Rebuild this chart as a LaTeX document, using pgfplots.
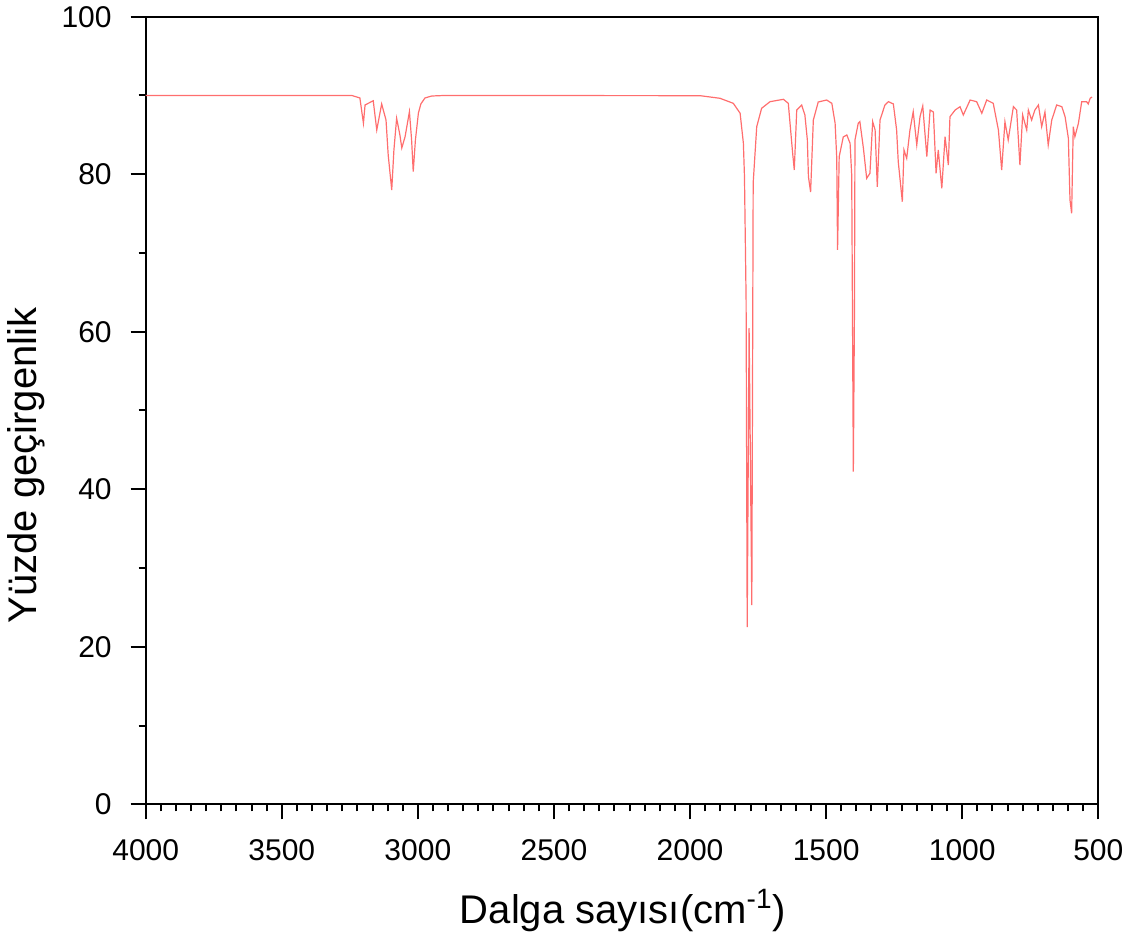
\documentclass[border=0pt]{standalone}
\usepackage{pgfplots}
\pgfplotsset{compat=1.18}
\usepackage{fontspec}
\setmainfont{Liberation Sans}
\definecolor{linered}{RGB}{255,110,110}
\pgfplotstableread{
x y
4000 90.0
3300 90.0
3243 90.0
3213 89.68
3200 86.47
3194 88.79
3164 89.33
3151 85.61
3133 88.92
3117 86.88
3109 82.44
3096 78.0
3088 83.07
3078 87.10
3066 84.98
3059 83.33
3047 84.76
3031 87.94
3023 84.35
3017 80.32
3009 84.35
2998 87.77
2989 88.92
2974 89.68
2949 89.93
2900 90.0
1963 89.97
1890 89.64
1841 89.0
1816 87.74
1804 83.93
1800 79.68
1794 64.0
1790 22.51
1783 60.47
1773 25.3
1768 78.9
1755 86.03
1737 88.37
1706 89.21
1657 89.51
1639 89.0
1623 82.66
1617 80.54
1608 88.15
1590 88.79
1578 87.52
1569 84.35
1565 79.68
1557 77.74
1547 86.88
1529 89.17
1498 89.42
1479 89.0
1467 86.47
1461 82.06
1458 70.38
1452 82.23
1437 84.73
1424 84.98
1412 83.93
1406 79.9
1400 42.23
1396 62.13
1394 84.35
1382 86.47
1376 86.67
1363 83.29
1351 79.48
1339 80.12
1329 86.67
1320 85.61
1312 78.41
1302 86.88
1284 88.79
1271 89.21
1253 88.92
1241 85.61
1235 81.59
1220 76.51
1214 83.07
1204 82.02
1192 85.61
1180 87.94
1167 83.71
1155 87.3
1145 88.66
1130 82.23
1118 88.15
1106 87.9
1096 80.12
1088 83.07
1075 78.21
1063 84.76
1051 81.17
1045 87.3
1026 88.15
1008 88.57
996 87.52
971 89.42
947 89.21
928 87.74
910 89.42
886 89.0
867 85.61
855 80.54
843 86.67
831 84.35
812 88.57
800 88.15
788 81.17
778 87.52
763 85.61
757 88.15
745 86.88
733 88.15
720 88.79
708 86.03
696 87.9
684 83.71
671 86.88
653 88.79
634 88.57
622 87.3
610 84.56
604 76.73
598 75.04
592 86.03
586 84.76
573 86.47
561 89.21
543 89.21
537 88.92
530 89.64
523 89.8
}\spectrum
\begin{document}
\begin{tikzpicture}
\useasboundingbox (0,0) rectangle (572pt,471pt);
\begin{axis}[
  at={(72.85pt,68.85pt)}, anchor=south west,
  scale only axis, width=476.3pt, height=393.8pt,
  x dir=reverse,
  xmin=500, xmax=4000, ymin=0, ymax=100,
  xtick={500,1000,...,4000}, ytick={0,20,...,100},
  minor x tick num=8, minor y tick num=1,
  tick align=outside, tick pos=left,
  major tick length=7.5pt, minor tick length=3.5pt,
  axis line style={line width=1pt},
  tick style={line width=1pt, black},
  tick label style={font=\fontsize{15}{18}\selectfont},
  xticklabel style={yshift=-6.5pt},
  yticklabel style={xshift=-6pt},
  /pgf/number format/assume math mode=true,
  /pgf/number format/1000 sep={},
  label style={font=\fontsize{20}{24}\selectfont},
  xlabel={Dalga sayısı(cm\textsuperscript{-1})},
  ylabel={Yüzde geçirgenlik},
  xlabel style={at={(axis description cs:0.501,-0.1511)}, anchor=base},
  ylabel style={at={(axis description cs:-0.1141,0.4302)}, anchor=base},
]
\addplot[color=linered, line width=0.6pt, no markers] table[x=x, y=y] {\spectrum};
\end{axis}
\end{tikzpicture}
\end{document}
